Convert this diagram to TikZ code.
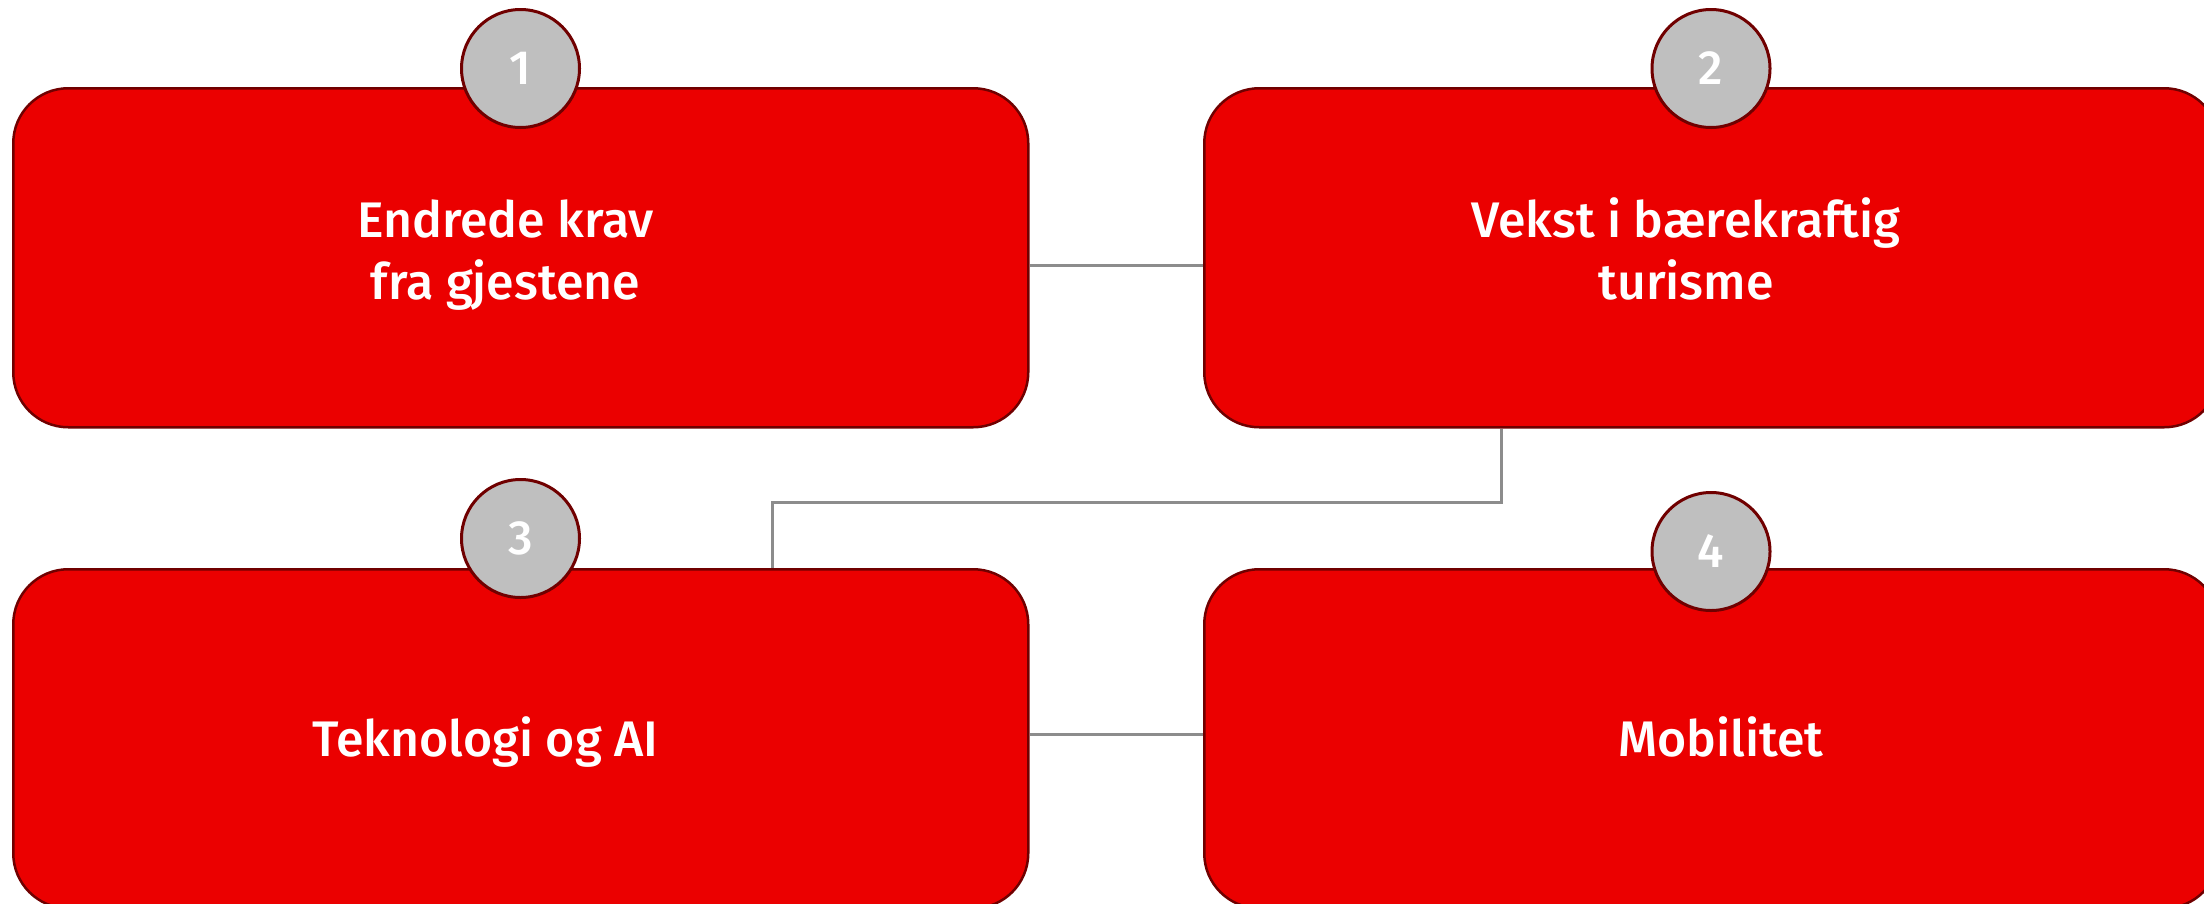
\documentclass[tikz,border=0pt]{standalone}
\usepackage{fontspec}
\setmainfont{Fira Sans}[UprightFont={* Medium}]
\definecolor{boxred}{RGB}{235,0,0}
\definecolor{edgered}{RGB}{112,0,0}
\definecolor{badge}{RGB}{191,191,191}
\definecolor{conngray}{RGB}{140,140,140}
\pgfdeclarelayer{background}
\pgfsetlayers{background,main}
\tikzset{
  panel/.style={draw=edgered, line width=2.5pt, fill=boxred, rounded corners=55pt,
    minimum width=1015pt, minimum height=339pt, inner sep=0pt, anchor=north west},
  badgenode/.style={circle, draw=edgered, line width=3pt, fill=badge, minimum size=118pt,
    inner sep=0pt, text=white, font=\fontsize{48}{48}\selectfont},
  paneltext/.style={text=white, align=center, inner sep=0pt, anchor=base,
    font=\fontsize{50}{62}\selectfont},
  conn/.style={draw=conngray, line width=3pt}
}
\begin{document}
\begin{tikzpicture}[x=1pt,y=-1pt]
\useasboundingbox (0,0) rectangle (2204,903);
\clip (0,0) rectangle (2204,903);
% panels
\node[panel] (b1) at (12,87) {};
\node[panel] (b2) at (1203,87) {};
\node[panel] (b3) at (12,568) {};
\node[panel] (b4) at (1203,568) {};
% connectors (behind the panels)
\begin{pgfonlayer}{background}
\draw[conn] (b1.east |- 0,265) -- (b2.west |- 0,265);
\draw[conn] (b3.east |- 0,734) -- (b4.west |- 0,734);
\draw[conn] (b2.south -| 1501,0) -- (1501,502) -- (772,502) -- (b3.north -| 772,0);
\end{pgfonlayer}
% texts
\node[paneltext] (t1) at (505.5,299) {Endrede krav\\fra gjestene};
\node[paneltext] (t2) at (1686,299) {Vekst i bærekraftig\\turisme};
\node[paneltext] (t3) at (485.5,756) {Teknologi og AI};
\node[paneltext] (t4) at (1721,756) {Mobilitet};
% badges
\node[badgenode] (c1) at (520.5,68.5) {1};
\node[badgenode] (c2) at (1711,68.5) {2};
\node[badgenode] (c3) at (520.5,538.5) {3};
\node[badgenode] (c4) at (1711,551.5) {4};
\end{tikzpicture}
\end{document}
